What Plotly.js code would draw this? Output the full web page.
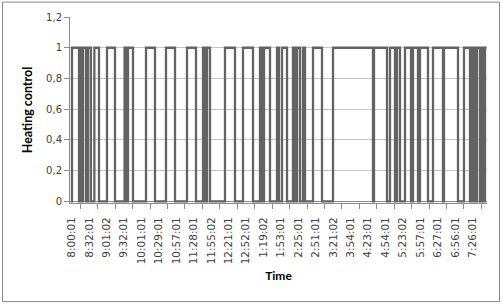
<!DOCTYPE html>
<html>
<head>
<meta charset="utf-8">
<script src="https://cdn.plot.ly/plotly-3.0.1.min.js"></script>
<style>
  html, body { margin: 0; padding: 0; background: #ffffff; }
  #chart { width: 503px; height: 304px; }
</style>
</head>
<body>
<div id="chart"></div>
<script>
// Tick labels of the category axis (one every label step)
const timeLabels = ["8:00:01","8:32:01","9:01:02","9:32:01","10:01:01","10:29:01","10:57:01","11:28:01",
  "11:55:02","12:21:01","12:52:01","1:19:02","1:53:01","2:25:01","2:51:01","3:21:02",
  "3:54:01","4:23:01","4:54:01","5:23:02","5:57:01","6:27:01","6:56:01","7:26:01"];
const labelPos = [0,1,2,3,4,5,6,7,8,9,10,11,12,13,14,15,16,17,18,19,20,21,22,23];

// Heating ON periods, expressed in label-step units along the time axis
const onStart = [0.017,0.476,0.648,0.935,1.300,2.026,3.033,3.230,4.263,5.410,6.615,
  7.533,7.762,8.795,9.828,10.803,11.033,11.779,12.066,12.696,12.926,13.270,13.844,
  14.991,17.344,18.261,18.663,19.122,19.581,19.983,20.729,21.360,22.507,22.937,23.109,23.253,23.511,23.712];
const onEnd   = [0.419,0.562,0.820,1.100,1.566,2.484,3.144,3.517,4.779,5.927,7.131,
  7.648,7.934,9.369,10.401,10.918,11.377,11.893,12.352,12.811,13.098,13.385,14.360,
  17.286,18.089,18.548,18.835,19.466,19.868,20.442,21.302,22.163,22.851,23.023,23.166,23.425,23.597,23.800];
const seriesStart = -0.05;
const seriesEnd = 23.80;

const yTickVals = [0,0.2,0.4,0.6,0.8,1,1.2];
const yTickText = ["0","0,2","0,4","0,6","0,8","1","1,2"];

// build the step series from the ON periods
const xs = [seriesStart], ys = [0];
for (let i = 0; i < onStart.length; i++) {
  xs.push(onStart[i], onStart[i], onEnd[i]);
  ys.push(0, 1, 1);
  if (onEnd[i] < seriesEnd) { xs.push(onEnd[i]); ys.push(0); }
}
if (xs[xs.length-1] < seriesEnd) { xs.push(seriesEnd); ys.push(ys[ys.length-1]); }

const trace = {
  x: xs, y: ys, type: 'scatter', mode: 'lines',
  line: { color: '#636363', width: 2.3 },
  hoverinfo: 'skip'
};

const layout = {
  width: 503, height: 304,
  margin: { l: 70, r: 16, t: 17, b: 101 },
  paper_bgcolor: '#ffffff', plot_bgcolor: '#ffffff',
  showlegend: false,
  font: { family: 'DejaVu Sans', size: 10, color: '#404040' },
  xaxis: {
    range: [-0.0975, 23.827],
    tickmode: 'array', tickvals: labelPos, ticktext: timeLabels,
    tickangle: -90, tickfont: { family: 'DejaVu Sans', size: 10.5, color: '#404040' },
    ticks: '', ticklabelstandoff: 9,
    showgrid: false, zeroline: false,
    showline: true, linecolor: '#8c8c8c', linewidth: 1,
    minor: { ticks: 'outside', tick0: 0.5, dtick: 1, ticklen: 5, tickcolor: '#8c8c8c', showgrid: false },
    title: { text: 'Time', font: { family: 'Lato', size: 12, color: '#000000', weight: 'bold' }, standoff: 8 },
    fixedrange: true
  },
  yaxis: {
    range: [-0.01, 1.2],
    tickmode: 'array', tickvals: yTickVals, ticktext: yTickText,
    tickfont: { family: 'DejaVu Sans', size: 10, color: '#404040' },
    ticks: 'outside', ticklen: 5, tickcolor: '#8c8c8c',
    showgrid: true, gridcolor: '#c4c4c4', gridwidth: 1,
    zeroline: true, zerolinecolor: '#8c8c8c', zerolinewidth: 1,
    showline: true, linecolor: '#8c8c8c', linewidth: 1,
    title: { text: 'Heating control', font: { family: 'Lato', size: 12.5, color: '#000000', weight: 'bold' }, standoff: 10 },
    fixedrange: true
  },
  shapes: [{
    type: 'rect', xref: 'paper', yref: 'paper',
    x0: -0.1619, x1: 1.0300, y0: -0.5300, y1: 1.0800,
    line: { color: '#868686', width: 1 }, fillcolor: 'rgba(0,0,0,0)', layer: 'below'
  }]
};

Plotly.newPlot('chart', [trace], layout, { displayModeBar: false, staticPlot: true });
</script>
</body>
</html>
